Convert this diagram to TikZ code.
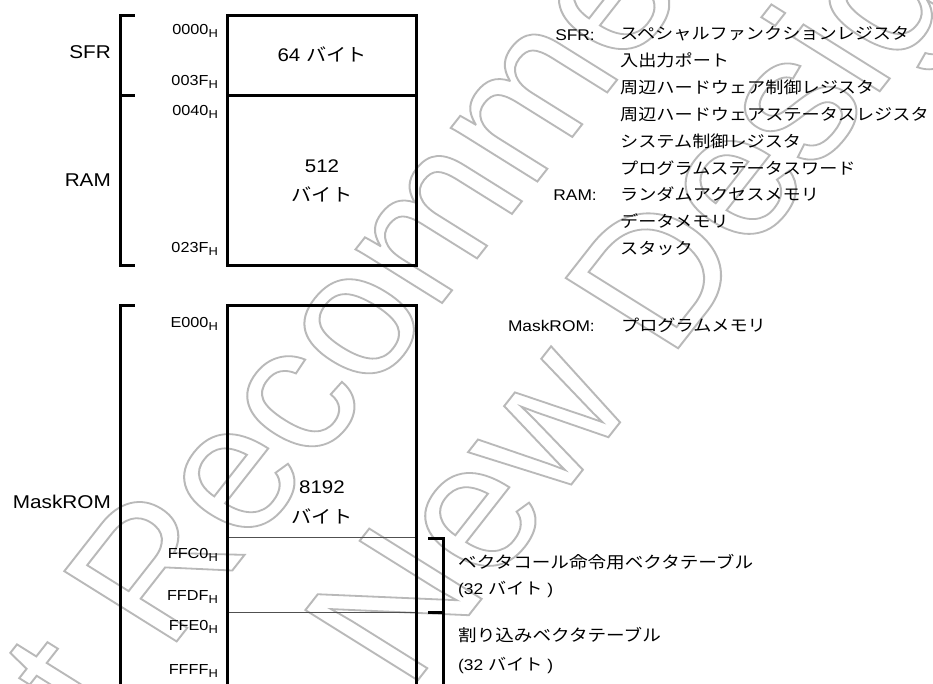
\documentclass[tikz,border=0pt]{standalone}
\usepackage{fontspec}
\setmainfont{Liberation Sans}[FakeStretch=1.12]
\newfontfamily\jp{Noto Sans CJK JP}[FakeStretch=1.12]
\newfontfamily\wmfont{Liberation Sans}
\definecolor{wmgray}{RGB}{185,185,185}
\definecolor{thingray}{RGB}{80,80,80}
\newcommand\Hsub{\raisebox{-3pt}{\fontsize{11.5}{12}\selectfont H}}
\newcommand\outlinetext[1]{\special{pdf:literal direct 1 Tr 1.8 w}#1\special{pdf:literal direct 0 Tr}}
\tikzset{
  lbl/.style={font=\fontsize{18.5}{22}\selectfont, anchor=base east, inner sep=0pt},
  addr/.style={font=\fontsize{14.5}{17}\selectfont, anchor=base east, inner sep=0pt},
  boxt/.style={font=\fontsize{18.3}{22}\selectfont, anchor=base, inner sep=0pt},
  boxj/.style={font=\jp\fontsize{18}{22}\selectfont, anchor=base, inner sep=0pt},
  key/.style={font=\fontsize{15.5}{18}\selectfont, anchor=base east, inner sep=0pt},
  desc/.style={font=\jp\fontsize{16.2}{19}\selectfont, anchor=base west, inner sep=0pt},
  descb/.style={font=\jp\fontsize{16.6}{19}\selectfont, anchor=base west, inner sep=0pt},
  descm/.style={font=\fontsize{15.5}{19}\selectfont, anchor=base west, inner sep=0pt},
  wm/.style={font=\wmfont\fontsize{178}{178}\selectfont, text=wmgray, anchor=base west, inner sep=0pt, rotate=55},
  heavy/.style={line width=3pt, line cap=rect},
  thin/.style={line width=1pt, draw=thingray},
}
\begin{document}
\begin{tikzpicture}[x=1pt,y=-1pt]
\useasboundingbox (0,0) rectangle (933,683);
\clip (0,0) rectangle (933,683);
\fill[white] (0,0) rectangle (933,683);
% watermark
\begin{scope}[xscale=1.12, transform shape]
\node[wm] (wm1) at (-37.9,920.8) {\outlinetext{Not Recommended for}};
\node[wm] (wm2) at (364.5,692.4) {\outlinetext{New Design}};
\end{scope}
% top memory block
\draw[heavy] (227,15) rectangle (416.5,265);
\draw[heavy] (227,95.5) -- (416.5,95.5);
\draw[heavy] (133,15) -- (120,15) -- (120,265.5) -- (133,265.5);
\draw[heavy] (120,95.5) -- (133,95.5);
% MaskROM block
\draw[heavy] (227,700) -- (227,305) -- (416.5,305) -- (416.5,700);
\draw[heavy] (133,305) -- (120,305) -- (120,700);
\draw[thin] (228.5,537.5) -- (415,537.5);
\draw[thin] (228.5,612.5) -- (415,612.5);
\draw[heavy] (429,538) -- (443.5,538) -- (443.5,700);
\draw[heavy] (429,612.5) -- (443.5,612.5);
% left labels
\node[lbl] (sfr) at (111,58.3) {SFR};
\node[lbl] (ram) at (111,186) {RAM};
\node[lbl] (rom) at (111,508) {MaskROM};
% addresses
\node[addr] (a0) at (218,34) {0000\Hsub};
\node[addr] (a1) at (218,85) {003F\Hsub};
\node[addr] (a2) at (218,115) {0040\Hsub};
\node[addr] (a3) at (218,252) {023F\Hsub};
\node[addr] (a4) at (218,327) {E000\Hsub};
\node[addr] (a5) at (218,558) {FFC0\Hsub};
\node[addr] (a6) at (218,600) {FFDF\Hsub};
\node[addr] (a7) at (218,630) {FFE0\Hsub};
\node[addr] (a8) at (218,674) {FFFF\Hsub};
% box texts
\node[boxt] (s64) at (322,61.7) {64 {\jp\fontsize{18}{22}\selectfont バイト}};
\node[boxt] (s512) at (322,172) {512};
\node[boxj] (s512b) at (322,201.8) {バイト};
\node[boxt] (s8k) at (322,493) {8192};
\node[boxj] (s8kb) at (322,523.8) {バイト};
% right description
\node[key] (ksfr) at (595,40) {SFR:};
\node[desc] (d1) at (620,39.5) {スペシャルファンクションレジスタ};
\node[desc] (d2) at (620,66.4) {入出力ポート};
\node[desc] (d3) at (620,93.3) {周辺ハードウェア制御レジスタ};
\node[desc] (d4) at (620,120.2) {周辺ハードウェアステータスレジスタ};
\node[desc] (d5) at (620,147.1) {システム制御レジスタ};
\node[desc] (d6) at (620,174.0) {プログラムステータスワード};
\node[key] (kram) at (597,200.6) {RAM:};
\node[desc] (d7) at (620,200.9) {ランダムアクセスメモリ};
\node[desc] (d8) at (620,227.8) {データメモリ};
\node[desc] (d9) at (620,254.7) {スタック};
\node[key] (krom) at (595,331.5) {MaskROM:};
\node[desc] (d10) at (621,331.2) {プログラムメモリ};
\node[descb] (v1) at (458,568) {ベクタコール命令用ベクタテーブル};
\node[descm] (v1b) at (458,594.8) {(32 {\jp\fontsize{16.2}{19}\selectfont バイト} )};
\node[descb] (v2) at (458,641.3) {割り込みベクタテーブル};
\node[descm] (v2b) at (458,670) {(32 {\jp\fontsize{16.2}{19}\selectfont バイト} )};
\end{tikzpicture}
\end{document}
